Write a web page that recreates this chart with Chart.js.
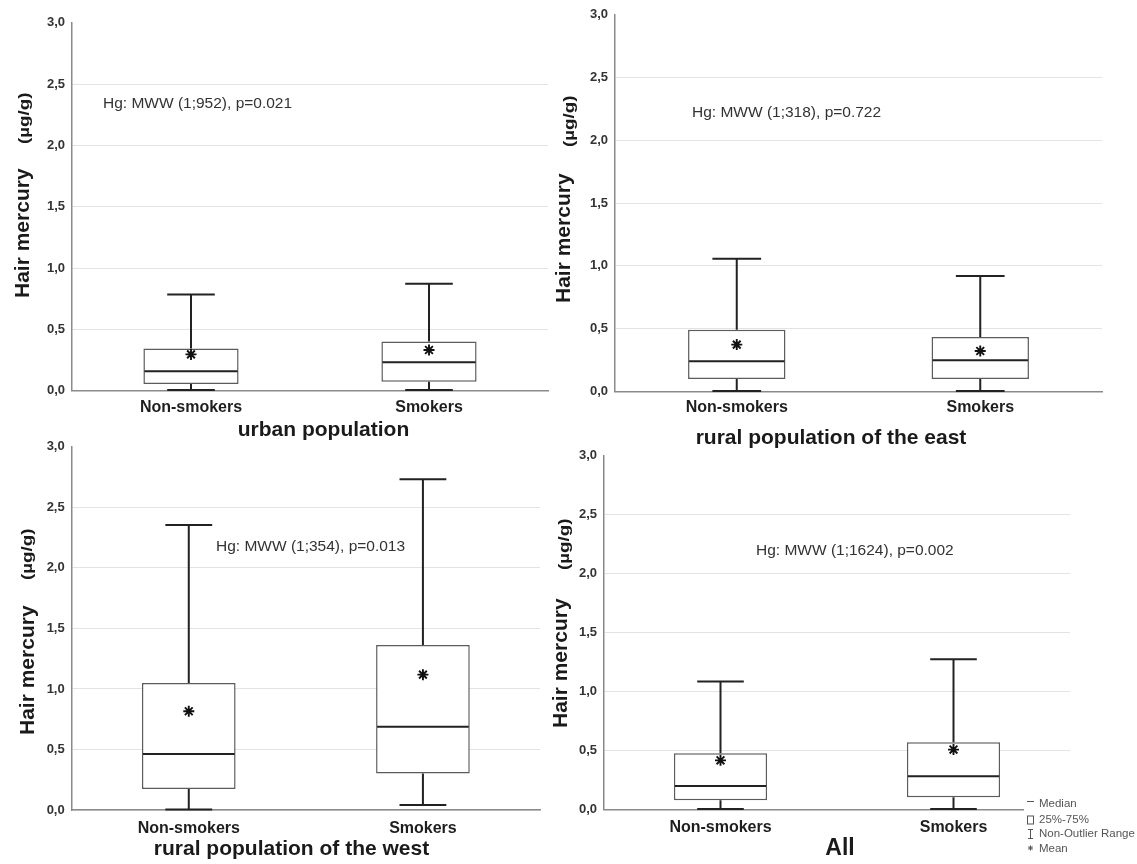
<!DOCTYPE html>
<html><head><meta charset="utf-8">
<script src="https://cdn.jsdelivr.net/npm/chart.js"></script>
<style>
html,body{margin:0;padding:0;background:#fff;}
body{width:1137px;height:864px;position:relative;overflow:hidden;}
canvas{position:absolute;display:block;}
</style></head><body>
<canvas id="c0"></canvas>
<canvas id="c1"></canvas>
<canvas id="c2"></canvas>
<canvas id="c3"></canvas>
<script>
// ---------- data ----------
const categories = ['Non-smokers', 'Smokers'];
const yTickLabels = ['0,0', '0,5', '1,0', '1,5', '2,0', '2,5', '3,0'];
const yTitle = 'Hair mercury';
const yUnit = '(µg/g)';
const panelTitles = ['urban population', 'rural population of the east', 'rural population of the west', 'All'];
const testLabels = ['Hg: MWW (1;952), p=0.021', 'Hg: MWW (1;318), p=0.722', 'Hg: MWW (1;354), p=0.013', 'Hg: MWW (1;1624), p=0.002'];
const legendLabels = ['Median', '25%-75%', 'Non-Outlier Range', 'Mean'];

// urban population
const urbanMin = [0.005, 0.005];
const urbanQ1 = [0.054, 0.073];
const urbanMedian = [0.158, 0.231];
const urbanQ3 = [0.345, 0.402];
const urbanMax = [0.785, 0.872];
const urbanMean = [0.296, 0.332];
// rural population of the east
const eastMin = [0.003, 0.003];
const eastQ1 = [0.098, 0.098];
const eastMedian = [0.239, 0.247];
const eastQ3 = [0.491, 0.433];
const eastMax = [1.057, 0.918];
const eastMean = [0.372, 0.321];
// rural population of the west
const westMin = [0.005, 0.041];
const westQ1 = [0.173, 0.302];
const westMedian = [0.462, 0.687];
const westQ3 = [1.049, 1.363];
const westMax = [2.354, 2.731];
const westMean = [0.816, 1.118];
// all
const allMin = [0.003, 0.003];
const allQ1 = [0.076, 0.102];
const allMedian = [0.198, 0.280];
const allQ3 = [0.475, 0.568];
const allMax = [1.082, 1.271];
const allMean = [0.415, 0.506];

// ---------- layout ----------
const FONT = '"Liberation Sans", Arial, Helvetica, sans-serif';
Chart.defaults.font.family = FONT;

const panels = [
  { left: 0, top: 0, w: 560, h: 452, plot: { l: 72, r: 548, t: 22.7, b: 390.7 }, tickPad: 7,
    stats: { min: urbanMin, q1: urbanQ1, med: urbanMedian, q3: urbanQ3, max: urbanMax, mean: urbanMean },
    note: { x: 103, y: 104 }, title: { x: 323.5, y: 436, size: 21 },
    yt: { x: 28.5, y: 298, ux: 29, uy: 144 } },
  { left: 540, top: 0, w: 597, h: 452, plot: { l: 75, r: 562, t: 14.7, b: 391.3 }, tickPad: 7,
    stats: { min: eastMin, q1: eastQ1, med: eastMedian, q3: eastQ3, max: eastMax, mean: eastMean },
    note: { x: 152, y: 112.7 }, title: { x: 291, y: 444, size: 21 },
    yt: { x: 30, y: 303, ux: 34, uy: 147 } },
  { left: 0, top: 432, w: 560, h: 432, plot: { l: 71.7, r: 540, t: 14, b: 378 }, tickPad: 9,
    stats: { min: westMin, q1: westQ1, med: westMedian, q3: westQ3, max: westMax, mean: westMean },
    note: { x: 216, y: 115 }, title: { x: 291.5, y: 423, size: 21 },
    yt: { x: 34, y: 303, ux: 32, uy: 148 } },
  { left: 540, top: 432, w: 597, h: 432, plot: { l: 64, r: 530, t: 23.3, b: 377.3 }, tickPad: 9,
    stats: { min: allMin, q1: allQ1, med: allMedian, q3: allQ3, max: allMax, mean: allMean },
    note: { x: 216, y: 119 }, title: { x: 300, y: 423, size: 23 },
    yt: { x: 27, y: 296, ux: 29, uy: 138 }, legend: { x: 487, ys: [372, 388, 402, 417], cover: 484 } }
];

function drawStar(ctx, x, y, r) {
  ctx.beginPath();
  for (let k = 0; k < 4; k++) {
    const a = k * Math.PI / 4;
    ctx.moveTo(x - r * Math.cos(a), y - r * Math.sin(a));
    ctx.lineTo(x + r * Math.cos(a), y + r * Math.sin(a));
  }
  ctx.stroke();
}

const boxPlugin = {
  id: 'boxWhisker',
  afterDatasetsDraw(chart) {
    const p = chart.options.plugins.boxWhisker.panel;
    const s = p.stats;
    const ctx = chart.ctx, xs = chart.scales.x, ys = chart.scales.y;
    const catW = xs.getPixelForValue(1) - xs.getPixelForValue(0);
    const capHalf = catW * 0.1, boxHalf = catW * 0.2;
    ctx.save();
    ctx.strokeStyle = '#222';
    ctx.lineWidth = 2;
    categories.forEach((c, i) => {
      const x = xs.getPixelForValue(i);
      const yMin = ys.getPixelForValue(s.min[i]), yMax = ys.getPixelForValue(s.max[i]);
      const yQ1 = ys.getPixelForValue(s.q1[i]), yQ3 = ys.getPixelForValue(s.q3[i]);
      const yMed = ys.getPixelForValue(s.med[i]);
      ctx.beginPath();
      ctx.moveTo(x, yQ3); ctx.lineTo(x, yMax);
      ctx.moveTo(x - capHalf, yMax); ctx.lineTo(x + capHalf, yMax);
      ctx.moveTo(x, yQ1); ctx.lineTo(x, yMin);
      ctx.moveTo(x - capHalf, yMin); ctx.lineTo(x + capHalf, yMin);
      ctx.moveTo(x - boxHalf + 1, yMed); ctx.lineTo(x + boxHalf - 1, yMed);
      ctx.stroke();
    });
    ctx.restore();
  },
  afterDraw(chart) {
    const p = chart.options.plugins.boxWhisker.panel;
    const idx = chart.options.plugins.boxWhisker.index;
    const ctx = chart.ctx;
    ctx.save();
    // annotation
    ctx.font = '15.5px ' + FONT;
    ctx.fillStyle = '#333';
    ctx.textAlign = 'left';
    ctx.textBaseline = 'middle';
    ctx.fillText(testLabels[idx], p.note.x, p.note.y);
    // x title
    ctx.font = 'bold ' + p.title.size + 'px ' + FONT;
    ctx.fillStyle = '#1a1a1a';
    ctx.textAlign = 'center';
    ctx.textBaseline = 'alphabetic';
    ctx.fillText(panelTitles[idx], p.title.x, p.title.y);
    // y title
    ctx.save();
    ctx.translate(p.yt.x, p.yt.y);
    ctx.rotate(-Math.PI / 2);
    ctx.font = 'bold 21px ' + FONT;
    ctx.textAlign = 'left';
    ctx.fillText(yTitle, 0, 0);
    ctx.restore();
    ctx.save();
    ctx.translate(p.yt.ux, p.yt.uy);
    ctx.rotate(-Math.PI / 2);
    ctx.scale(1.25, 1);
    ctx.font = 'bold 15px ' + FONT;
    ctx.textAlign = 'left';
    ctx.fillText(yUnit, 0, 0);
    ctx.restore();
    // legend
    if (p.legend) {
      const L = p.legend;
      ctx.fillStyle = '#fff';
      ctx.fillRect(L.cover, L.ys[0] - 6, chart.width - L.cover, chart.height - L.ys[0] + 6);
      ctx.strokeStyle = '#555';
      ctx.lineWidth = 1;
      const x = L.x;
      ctx.beginPath(); ctx.moveTo(x, L.ys[0] - 2.5); ctx.lineTo(x + 7, L.ys[0] - 2.5); ctx.stroke();
      ctx.strokeRect(x + 0.5, L.ys[1] - 4, 6, 8);
      ctx.beginPath();
      ctx.moveTo(x + 3.5, L.ys[2] - 4.5); ctx.lineTo(x + 3.5, L.ys[2] + 4.5);
      ctx.moveTo(x + 1, L.ys[2] - 4.5); ctx.lineTo(x + 6, L.ys[2] - 4.5);
      ctx.moveTo(x + 1, L.ys[2] + 4.5); ctx.lineTo(x + 6, L.ys[2] + 4.5);
      ctx.stroke();
      drawStar(ctx, x + 3.5, L.ys[3] - 1, 2.5);
      ctx.fillStyle = '#555';
      ctx.font = '11.5px ' + FONT;
      ctx.textAlign = 'left';
      ctx.textBaseline = 'middle';
      legendLabels.forEach((t, k) => ctx.fillText(t, x + 12, L.ys[k]));
    }
    ctx.restore();
  }
};

panels.forEach((p, idx) => {
  const cv = document.getElementById('c' + idx);
  cv.width = p.w; cv.height = p.h;
  cv.style.left = p.left + 'px'; cv.style.top = p.top + 'px';
  cv.style.width = p.w + 'px'; cv.style.height = p.h + 'px';
  const s = p.stats;
  new Chart(cv, {
    type: 'bar',
    data: {
      labels: categories,
      datasets: [
        {
          type: 'line',
          label: 'Mean',
          data: s.mean,
          showLine: false,
          pointStyle: 'star',
          pointRadius: 5.5,
          pointBorderWidth: 1.9,
          borderColor: '#111',
          backgroundColor: '#111',
          order: 0
        },
        {
          label: '25%-75%',
          data: s.q1.map((v, i) => [v, s.q3[i]]),
          backgroundColor: '#ffffff',
          borderColor: '#5c5c5c',
          borderWidth: 1.5,
          borderSkipped: false,
          barPercentage: 0.4,
          categoryPercentage: 1.0,
          grouped: false,
          order: 1
        }
      ]
    },
    options: {
      responsive: false,
      animation: false,
      devicePixelRatio: 1,
      layout: { padding: { left: 0, top: p.plot.t, right: p.w - p.plot.r, bottom: 0 } },
      plugins: {
        legend: { display: false },
        tooltip: { enabled: false },
        boxWhisker: { panel: p, index: idx }
      },
      scales: {
        x: {
          type: 'category',
          offset: true,
          grid: { display: false, drawTicks: false },
          border: { display: true, color: '#8a8a8a', width: 1.5 },
          ticks: { padding: p.tickPad, color: '#1e1e1e', font: { size: 16, weight: 'bold' }, maxRotation: 0 },
          afterFit: sc => { sc.height = p.h - p.plot.b; }
        },
        y: {
          type: 'linear',
          min: 0, max: 3,
          grid: {
            drawTicks: false,
            lineWidth: 1,
            color: c => (c.tick && c.tick.value === 3) ? 'rgba(0,0,0,0)' : '#e3e3e3'
          },
          border: { display: true, color: '#8a8a8a', width: 1.5 },
          ticks: {
            stepSize: 0.5,
            padding: 7,
            color: '#333',
            font: { size: 13, weight: 'bold' },
            callback: (v, i) => yTickLabels[i]
          },
          afterFit: sc => { sc.width = p.plot.l; }
        }
      }
    },
    plugins: [boxPlugin]
  });
});
</script>
</body></html>
